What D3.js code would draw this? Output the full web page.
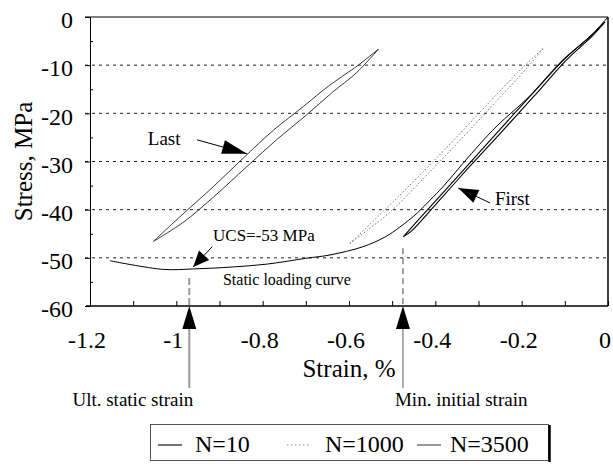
<!DOCTYPE html>
<html lang="en">
<head>
<meta charset="utf-8">
<title>Stress-strain loops</title>
<script src="https://cdn.jsdelivr.net/npm/d3@7"></script>
<style>
	body { margin: 0; background: #fff; }
	svg { display: block; font-family: "Liberation Serif", "Times New Roman", serif; }
</style>
</head>
<body>
<script>
// ticks
var xTicks = [-1.2, -1, -0.8, -0.6, -0.4, -0.2, 0];
var xMinor = [-1.1, -0.9, -0.7, -0.5, -0.3, -0.1];
var yTicks = [-60, -50, -40, -30, -20, -10, 0];
var yMinor = [-55, -45, -35, -25, -15, -5];
var yGrid = [-50, -40, -30, -20, -10];

// static loading curve
var staticStrain = [0, -0.04, -0.10, -0.18, -0.257, -0.297, -0.336, -0.382, -0.412, -0.442, -0.482, -0.517, -0.568, -0.644, -0.70, -0.79, -0.87, -0.96, -1.03, -1.154];
var staticStress = [0, -3.9, -8.7, -16.3, -22.6, -26.4, -30.4, -35.2, -38.0, -40.7, -43.6, -45.7, -47.7, -49.4, -50.1, -51.3, -51.9, -52.3, -52.4, -50.6];

// N=10 loop (first)
var n10UpStrain = [-0.474, -0.412, -0.335, -0.258, -0.181, -0.104, -0.042, -0.007];
var n10UpStress = [-45.6, -39.4, -31.8, -24.1, -16.5, -8.9, -4.1, -1.0];
var n10LoStrain = [-0.474, -0.455, -0.400, -0.325, -0.248, -0.172, -0.096, -0.036, -0.007];
var n10LoStress = [-45.6, -44.4, -39.0, -31.5, -24.0, -16.5, -8.9, -3.9, -1.0];

// N=1000 loop
var n1000UpStrain = [-0.598, -0.520, -0.440, -0.360, -0.280, -0.200, -0.150];
var n1000UpStress = [-47.0, -40.3, -33.2, -25.8, -18.2, -10.7, -6.5];
var n1000LoStrain = [-0.598, -0.505, -0.425, -0.345, -0.265, -0.188, -0.150];
var n1000LoStress = [-47.0, -40.5, -33.3, -25.8, -18.1, -10.6, -6.5];

// N=3500 loop (last)
var n3500UpStrain = [-1.053, -0.992, -0.914, -0.845, -0.775, -0.706, -0.644, -0.586, -0.532];
var n3500UpStress = [-46.6, -41.5, -35.2, -29.3, -23.5, -18.6, -14.1, -10.5, -6.7];
var n3500LoStrain = [-1.053, -0.982, -0.913, -0.837, -0.768, -0.698, -0.638, -0.583, -0.532];
var n3500LoStress = [-46.6, -42.5, -37.3, -31.1, -25.5, -20.3, -15.6, -11.6, -6.7];

var legendNames = ["N=10", "N=1000", "N=3500"];

// annotations (data units)
var labelTexts = ["Last", "First", "UCS=-53 MPa", "Static loading curve"];
var labelStrain = [-1.066, -0.262, -0.915, -0.892];
var labelStress = [-26.6, -39.0, -46.6, -55.6];
var arrowFrom = [[-0.952, -25.5], [-0.273, -38.6], [-0.917, -47.7]];
var arrowTo = [[-0.836, -28.4], [-0.347, -35.5], [-0.961, -51.9]];

var markNames = ["Ult. static strain", "Min. initial strain"];
var markStrain = [-0.97, -0.475];
var markStress = [-54.2, -48.0];

var width = 613, height = 469;

var svg = d3.select("body").append("svg")
	.attr("width", width)
	.attr("height", height);

var x = d3.scaleLinear().domain([-1.2, 0]).range([90, 608]);
var y = d3.scaleLinear().domain([-60, 0]).range([306, 17]);

function zip(a, b) { return a.map(function(v, i) { return [v, b[i]]; }); }

var line = d3.line()
	.x(function(d) { return x(d[0]); })
	.y(function(d) { return y(d[1]); })
	.curve(d3.curveCatmullRom.alpha(0.5));

// grid
svg.append("g").selectAll("line")
	.data(yGrid).enter().append("line")
	.attr("x1", 85).attr("x2", 608)
	.attr("y1", function(d) { return y(d); })
	.attr("y2", function(d) { return y(d); })
	.attr("stroke", "#222")
	.attr("stroke-width", 1)
	.attr("stroke-dasharray", "3,4");

// frame
svg.append("line").attr("x1", 85).attr("x2", 608).attr("y1", y(0)).attr("y2", y(0)).attr("stroke", "#000");
svg.append("line").attr("x1", 608).attr("x2", 608).attr("y1", y(0)).attr("y2", y(-60)).attr("stroke", "#000").attr("stroke-width", 1.5);

// x axis
var xAxis = d3.axisBottom(x).tickValues(xTicks).tickSize(-5).tickPadding(0)
	.tickFormat(function(d) { return String(d); });
var gx = svg.append("g").attr("transform", "translate(0," + y(-60) + ")").call(xAxis);
gx.select(".domain").attr("d", "M86,0H608").attr("stroke-width", 1.5);
gx.selectAll("text")
	.attr("font-family", "Liberation Serif")
	.attr("font-size", 24)
	.attr("fill", "#000")
	.attr("dy", null)
	.attr("y", 42)
	.attr("dx", -3.5);
svg.append("g").attr("transform", "translate(0," + y(-60) + ")")
	.call(d3.axisBottom(x).tickValues(xMinor).tickSize(-5).tickFormat(""))
	.select(".domain").remove();

// y axis
var yAxis = d3.axisLeft(y).tickValues(yTicks).tickSize(5).tickPadding(12)
	.tickFormat(function(d) { return String(d); });
var gy = svg.append("g").attr("transform", "translate(90,0)").call(yAxis);
gy.select(".domain").attr("stroke-width", 1);
gy.selectAll("text")
	.attr("font-family", "Liberation Serif")
	.attr("font-size", 24)
	.attr("fill", "#000")
	.attr("dy", "0.45em");
svg.append("g").attr("transform", "translate(90,0)")
	.call(d3.axisLeft(y).tickValues(yMinor).tickSize(-3).tickFormat(""))
	.select(".domain").remove();

// axis titles
svg.append("text")
	.attr("transform", "translate(32," + ((y(0) + y(-60)) / 2) + ") rotate(-90)")
	.attr("text-anchor", "middle")
	.attr("font-size", 25)
	.text("Stress, MPa");
svg.append("text")
	.attr("x", (x(-1.2) + x(0)) / 2)
	.attr("y", 377)
	.attr("text-anchor", "middle")
	.attr("font-size", 25)
	.text("Strain, %");

// curves
var curves = svg.append("g").attr("fill", "none");

curves.append("path").datum(zip(staticStrain, staticStress))
	.attr("d", line).attr("stroke", "#000").attr("stroke-width", 1);

[[n10UpStrain, n10UpStress], [n10LoStrain, n10LoStress]].forEach(function(b) {
	curves.append("path").datum(zip(b[0], b[1]))
		.attr("d", line).attr("stroke", "#000").attr("stroke-width", 1.1);
});
[[n1000UpStrain, n1000UpStress], [n1000LoStrain, n1000LoStress]].forEach(function(b) {
	curves.append("path").datum(zip(b[0], b[1]))
		.attr("d", line).attr("stroke", "#777").attr("stroke-width", 1)
		.attr("stroke-dasharray", "1.5,2");
});
[[n3500UpStrain, n3500UpStress], [n3500LoStrain, n3500LoStress]].forEach(function(b) {
	curves.append("path").datum(zip(b[0], b[1]))
		.attr("d", line).attr("stroke", "#222").attr("stroke-width", 0.9);
});

// arrow heads
function head(tx, ty, fx, fy, len, half) {
	var dx = tx - fx, dy = ty - fy, l = Math.sqrt(dx * dx + dy * dy);
	var ux = dx / l, uy = dy / l;
	var bx = tx - ux * len, by = ty - uy * len;
	return "M" + tx + "," + ty + "L" + (bx - uy * half) + "," + (by + ux * half) +
		"L" + (bx + uy * half) + "," + (by - ux * half) + "Z";
}

var headLen = [25, 20, 16];
arrowFrom.forEach(function(f, i) {
	var fx = x(f[0]), fy = y(f[1]), tx = x(arrowTo[i][0]), ty = y(arrowTo[i][1]);
	svg.append("line").attr("x1", fx).attr("y1", fy).attr("x2", tx).attr("y2", ty)
		.attr("stroke", "#000").attr("stroke-width", 1);
	svg.append("path").attr("d", head(tx, ty, fx, fy, headLen[i], 7)).attr("fill", "#000");
});

// labels
var labelSize = [19, 19, 17, 16];
labelTexts.forEach(function(t, i) {
	svg.append("text")
		.attr("x", x(labelStrain[i]))
		.attr("y", y(labelStress[i]))
		.attr("font-size", labelSize[i])
		.attr("stroke", "#fff").attr("stroke-width", i === 1 ? 6 : 0)
		.attr("paint-order", "stroke")
		.attr("fill", "#000")
		.text(t);
});

// strain markers
markStrain.forEach(function(s, i) {
	var xs = x(s);
	svg.append("line")
		.attr("x1", xs).attr("x2", xs)
		.attr("y1", y(markStress[i])).attr("y2", y(-60))
		.attr("stroke", i === 0 ? "#999" : "#444")
		.attr("stroke-width", i === 0 ? 2 : 1)
		.attr("stroke-dasharray", i === 0 ? "7,3" : "6,4");
	svg.append("line")
		.attr("x1", xs).attr("x2", xs)
		.attr("y1", y(-60) + 22).attr("y2", 388)
		.attr("stroke", i === 0 ? "#999" : "#777")
		.attr("stroke-width", i === 0 ? 2 : 1.2);
	svg.append("path").attr("d", head(xs, y(-60), xs, 388, 23, 7)).attr("fill", "#000");
	svg.append("text")
		.attr("x", i === 0 ? xs + 4 : xs - 8)
		.attr("y", 406)
		.attr("text-anchor", i === 0 ? "end" : "start")
		.attr("font-size", 19)
		.text(markNames[i]);
});

// legend
var lg = svg.append("g");
lg.append("rect").attr("x", 150.5).attr("y", 424.5).attr("width", 398).attr("height", 36)
	.attr("fill", "#fff").attr("stroke", "#555").attr("stroke-width", 1);
lg.append("line").attr("x1", 549.5).attr("x2", 549.5).attr("y1", 425).attr("y2", 462)
	.attr("stroke", "#000").attr("stroke-width", 2.5);

var legX = [158, 287, 417];
var legTextX = [195, 325, 450];
var legStroke = ["#000", "#888", "#444"];
var legDash = [null, "1.5,2.5", null];
legendNames.forEach(function(n, i) {
	lg.append("line")
		.attr("x1", legX[i]).attr("x2", legX[i] + 24)
		.attr("y1", 445).attr("y2", 445)
		.attr("stroke", legStroke[i]).attr("stroke-width", 1.1)
		.attr("stroke-dasharray", legDash[i]);
	lg.append("text")
		.attr("x", legTextX[i]).attr("y", 452)
		.attr("font-size", 24)
		.text(n);
});
</script>
</body>
</html>
